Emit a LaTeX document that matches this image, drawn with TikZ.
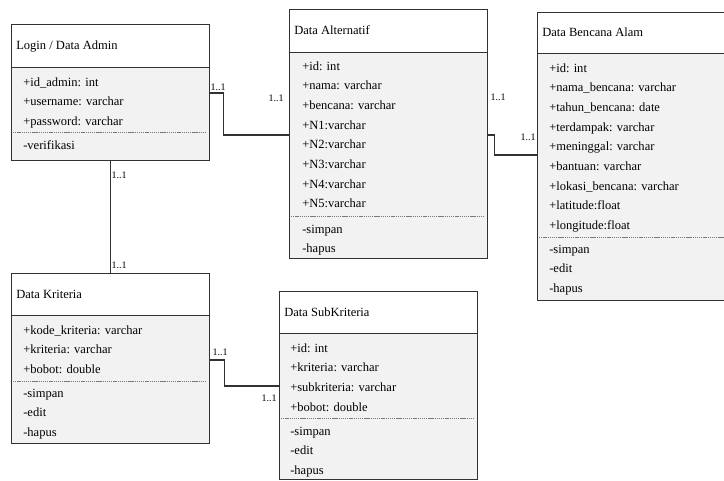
\documentclass[tikz,border=0pt]{standalone}
\usepackage{fontspec}
\setmainfont{Liberation Serif}
\usepackage{tikz}
\usetikzlibrary{positioning, calc}
\definecolor{bodygray} {RGB}{242,242,242}
\definecolor{linegray} {RGB}{50, 50, 50}
\definecolor{sepgray}  {RGB}{120,120,120}

\tikzset{
	classhead/.style={draw=linegray, fill=white, anchor=north west, inner sep=0pt},
	classbody/.style={draw=linegray, fill=bodygray, anchor=north west, inner sep=0pt},
	headline/.style={linegray, line width=1.1pt},
	title/.style={anchor=base west, inner sep=0pt, yshift=-3pt, font=\fontsize{9.4}{11}\selectfont},
	attr/.style={anchor=base west, inner sep=0pt, yshift=-3pt, font=\fontsize{9.4}{11}\selectfont},
	sep/.style={sepgray, line width=0.5pt, dash pattern=on 1pt off 0.6pt},
	assoc/.style={linegray, line width=0.8pt},
	mult/.style={anchor=base, inner sep=0pt, yshift=-2.5pt, font=\fontsize{7.5}{9}\selectfont}
}

\begin{document}
\begin{tikzpicture}[x=0.75pt, y=-0.75pt]
	\useasboundingbox (0,0) rectangle (724,480);

	% Login / Data Admin
	\node[classbody, minimum width=198*0.75pt, minimum height=93*0.75pt] (adminbody) at (11,67) {};
	\node[classhead, minimum width=198*0.75pt, minimum height=43*0.75pt] (admin) at (11,24) {};
	\draw[headline] (admin.south west) -- (admin.south east);
	\node[title] (admintitle) at (16,45) {Login / Data Admin};
	\foreach \t [count=\i from 0] in {+id\_admin: int, +username: varchar, +password: varchar}
		\node[attr] at (23,82+\i*19.5) {\t};
	\draw[sep] (13,132) -- (207,132);
	\node[attr] (adminop) at (23,145) {-verifikasi};

	% Data Alternatif
	\node[classbody, minimum width=198*0.75pt, minimum height=206*0.75pt] (altbody) at (289,52) {};
	\node[classhead, minimum width=198*0.75pt, minimum height=43*0.75pt] (alt) at (289,9) {};
	\draw[headline] (alt.south west) -- (alt.south east);
	\node[title] (alttitle) at (294,30) {Data Alternatif};
	\foreach \t [count=\i from 0] in {+id: int, +nama: varchar, +bencana: varchar, +N1:varchar,
		+N2:varchar, +N3:varchar, +N4:varchar, +N5:varchar}
		\node[attr] at (302,66+\i*19.7) {\t};
	\draw[sep] (291,216) -- (485,216);
	\foreach \t [count=\i from 0] in {-simpan, -hapus}
		\node[attr] at (302,229+\i*19.7) {\t};

	% Data Bencana Alam
	\node[classbody, minimum width=192*0.75pt, minimum height=247*0.75pt] (bencanabody) at (537,53) {};
	\node[classhead, minimum width=192*0.75pt, minimum height=41*0.75pt] (bencana) at (537,12) {};
	\draw[headline] (bencana.south west) -- (bencana.south east);
	\node[title] (bencanatitle) at (542,32) {Data Bencana Alam};
	\foreach \t [count=\i from 0] in {+id: int, +nama\_bencana: varchar, +tahun\_bencana: date,
		+terdampak: varchar, +meninggal: varchar, +bantuan: varchar, +lokasi\_bencana: varchar,
		+latitude:float, +longitude:float}
		\node[attr] at (549,68+\i*19.7) {\t};
	\draw[sep] (539,237) -- (729,237);
	\foreach \t [count=\i from 0] in {-simpan, -edit, -hapus}
		\node[attr] at (549,249+\i*19.7) {\t};

	% Data Kriteria
	\node[classbody, minimum width=198*0.75pt, minimum height=128*0.75pt] (kriteriabody) at (11,315) {};
	\node[classhead, minimum width=198*0.75pt, minimum height=42*0.75pt] (kriteria) at (11,273) {};
	\draw[headline] (kriteria.south west) -- (kriteria.south east);
	\node[title] (kriteriatitle) at (16,294) {Data Kriteria};
	\foreach \t [count=\i from 0] in {+kode\_kriteria: varchar, +kriteria: varchar, +bobot: double}
		\node[attr] at (23,330+\i*19.5) {\t};
	\draw[sep] (13,381) -- (207,381);
	\foreach \t [count=\i from 0] in {-simpan, -edit, -hapus}
		\node[attr] at (23,393+\i*19.5) {\t};

	% Data SubKriteria
	\node[classbody, minimum width=198*0.75pt, minimum height=146*0.75pt] (subbody) at (279,333) {};
	\node[classhead, minimum width=198*0.75pt, minimum height=42*0.75pt] (sub) at (279,291) {};
	\draw[headline] (sub.south west) -- (sub.south east);
	\node[title] (subtitle) at (284,312) {Data SubKriteria};
	\foreach \t [count=\i from 0] in {+id: int, +kriteria: varchar, +subkriteria: varchar, +bobot: double}
		\node[attr] at (290,348+\i*19.8) {\t};
	\draw[sep] (281,418) -- (475,418);
	\foreach \t [count=\i from 0] in {-simpan, -edit, -hapus}
		\node[attr] at (290,431+\i*19.6) {\t};

	% relasi
	\draw[assoc] ($(adminbody.north east)+(0,26)$) -- ++(14,0) |- ($(altbody.north west)+(0,83)$);
	\draw[assoc] ($(altbody.north east)+(0,83)$) -- ++(7,0) |- ($(bencanabody.north west)+(0,102)$);
	\draw[assoc] (adminbody.south) -- (kriteria.north);
	\draw[assoc] ($(kriteriabody.north east)+(0,45)$) -- ++(15,0) |- ($(subbody.north west)+(0,53)$);

	\node[mult] (m1a) at (218,87) {1..1};
	\node[mult] (m1b) at (276,98) {1..1};
	\node[mult] (m2a) at (498,97) {1..1};
	\node[mult] (m2b) at (528,137) {1..1};
	\node[mult] (m3a) at (119,175) {1..1};
	\node[mult] (m3b) at (119,265) {1..1};
	\node[mult] (m4a) at (220,352) {1..1};
	\node[mult] (m4b) at (269,398) {1..1};
\end{tikzpicture}
\end{document}
